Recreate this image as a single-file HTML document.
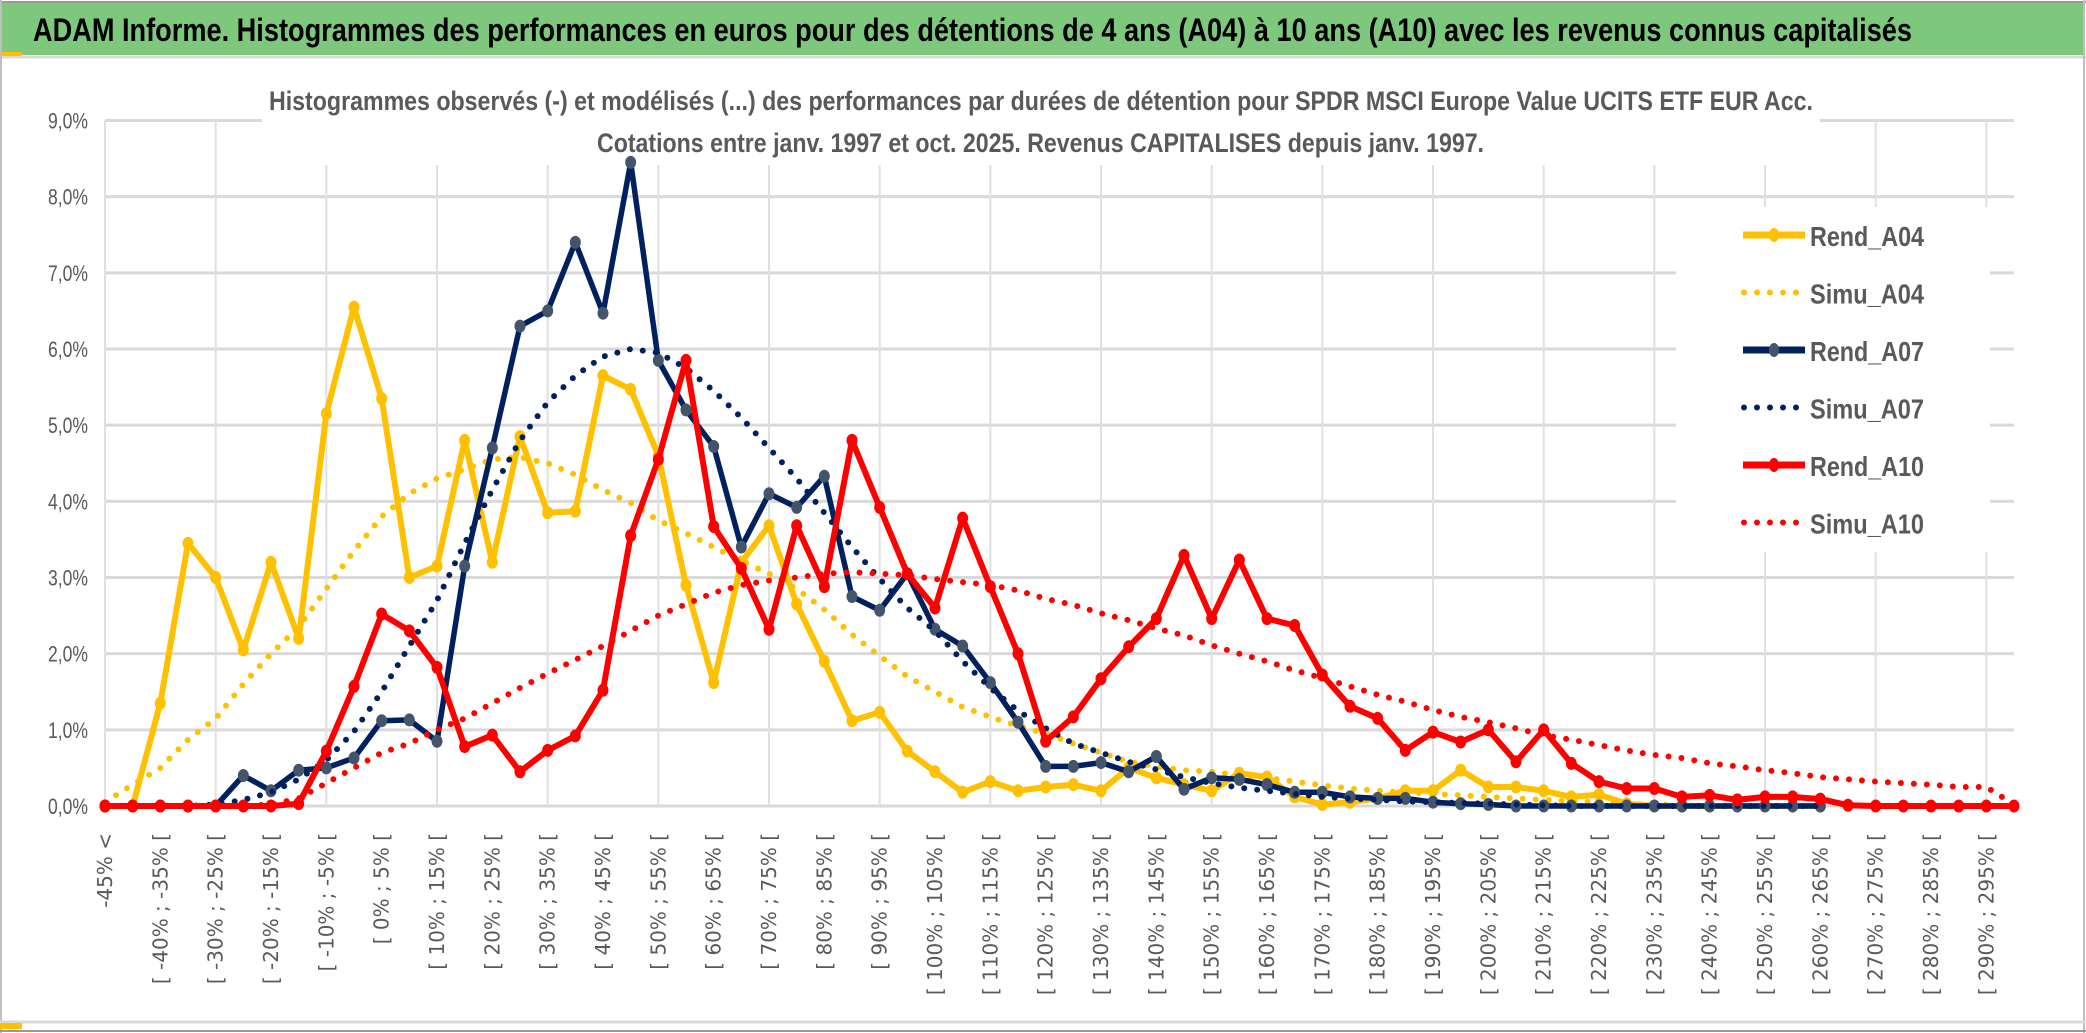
<!DOCTYPE html>
<html><head><meta charset="utf-8"><style>
html,body{margin:0;padding:0;background:#fff;}
svg{display:block;}
</style></head><body>
<svg id="chart" width="2086" height="1033" viewBox="0 0 2086 1033" xmlns="http://www.w3.org/2000/svg">
<rect x="0" y="0" width="2086" height="1033" fill="#fff"/>
<rect x="1" y="3" width="2082" height="52" fill="#7ec87e"/>
<line x1="0" y1="2" x2="2086" y2="2" stroke="#999" stroke-width="2"/>
<line x1="0" y1="57" x2="2086" y2="57" stroke="#d9d9d9" stroke-width="3"/>
<rect x="0" y="52" width="22" height="4" fill="#ffc000"/>
<line x1="1" y1="0" x2="1" y2="1033" stroke="#bfbfbf" stroke-width="2"/>
<line x1="2084" y1="0" x2="2084" y2="1033" stroke="#bfbfbf" stroke-width="2"/>
<line x1="0" y1="1022" x2="2086" y2="1022" stroke="#d9d9d9" stroke-width="3"/>
<line x1="0" y1="1031" x2="2086" y2="1031" stroke="#999" stroke-width="2"/>
<rect x="0" y="1023" width="22" height="6" fill="#ffc000"/>
<text x="33" y="41" font-family="Liberation Sans, sans-serif" font-weight="bold" font-size="32" fill="#000" textLength="1879" lengthAdjust="spacingAndGlyphs">ADAM Informe. Histogrammes des performances en euros pour des détentions de 4 ans (A04) à 10 ans (A10) avec les revenus connus capitalisés</text>
<g id="grid"></g>
<rect x="262" y="60" width="1558" height="105" fill="#fff"/>
<text x="269" y="110" font-family="Liberation Sans, sans-serif" font-weight="bold" font-size="27" fill="#595959" textLength="1544" lengthAdjust="spacingAndGlyphs">Histogrammes observés (-) et modélisés (...) des performances par durées de détention pour SPDR MSCI Europe Value UCITS ETF EUR Acc.</text>
<text x="597" y="152" font-family="Liberation Sans, sans-serif" font-weight="bold" font-size="27" fill="#595959" textLength="887" lengthAdjust="spacingAndGlyphs">Cotations entre janv. 1997 et oct. 2025. Revenus CAPITALISES depuis janv. 1997.</text>
<rect x="1676" y="207" width="314" height="345" fill="#fff"/>
<g id="yaxis"></g>
<g id="xaxis"></g>
<g id="series"></g>
<g id="legend"></g>
</svg>
<script>
const categories = ["-45% <","[ -45% ; -40% [","[ -40% ; -35% [","[ -35% ; -30% [","[ -30% ; -25% [","[ -25% ; -20% [","[ -20% ; -15% [","[ -15% ; -10% [","[ -10% ; -5% [","[ -5% ; 0% [",
"[ 0% ; 5% [","[ 5% ; 10% [","[ 10% ; 15% [","[ 15% ; 20% [","[ 20% ; 25% [","[ 25% ; 30% [","[ 30% ; 35% [","[ 35% ; 40% [","[ 40% ; 45% [","[ 45% ; 50% [",
"[ 50% ; 55% [","[ 55% ; 60% [","[ 60% ; 65% [","[ 65% ; 70% [","[ 70% ; 75% [","[ 75% ; 80% [","[ 80% ; 85% [","[ 85% ; 90% [","[ 90% ; 95% [","[ 95% ; 100% [",
"[ 100% ; 105% [","[ 105% ; 110% [","[ 110% ; 115% [","[ 115% ; 120% [","[ 120% ; 125% [","[ 125% ; 130% [","[ 130% ; 135% [","[ 135% ; 140% [","[ 140% ; 145% [","[ 145% ; 150% [",
"[ 150% ; 155% [","[ 155% ; 160% [","[ 160% ; 165% [","[ 165% ; 170% [","[ 170% ; 175% [","[ 175% ; 180% [","[ 180% ; 185% [","[ 185% ; 190% [","[ 190% ; 195% [","[ 195% ; 200% [",
"[ 200% ; 205% [","[ 205% ; 210% [","[ 210% ; 215% [","[ 215% ; 220% [","[ 220% ; 225% [","[ 225% ; 230% [","[ 230% ; 235% [","[ 235% ; 240% [","[ 240% ; 245% [","[ 245% ; 250% [",
"[ 250% ; 255% [","[ 255% ; 260% [","[ 260% ; 265% [","[ 265% ; 270% [","[ 270% ; 275% [","[ 275% ; 280% [","[ 280% ; 285% [","[ 285% ; 290% [","[ 290% ; 295% [","[ 295% ; 300% ["];
const yTicks = [0,1,2,3,4,5,6,7,8,9];
const yTickLabels = ["0,0%","1,0%","2,0%","3,0%","4,0%","5,0%","6,0%","7,0%","8,0%","9,0%"];
const rendA04 = [0,0,1.35,3.45,3.0,2.05,3.2,2.2,5.15,6.55,
5.35,3.0,3.15,4.8,3.2,4.85,3.85,3.87,5.65,5.47,
4.6,2.9,1.62,3.2,3.68,2.65,1.9,1.12,1.23,0.72,
0.45,0.18,0.32,0.2,0.25,0.28,0.2,0.5,0.37,0.28,
0.2,0.43,0.38,0.12,0.02,0.05,0.1,0.2,0.2,0.47,
0.25,0.25,0.2,0.12,0.15,0.03,0,0,0,0,
0,0,0,null,null,null,null,null,null,null];
const simuA04 = [0.05,0.28,0.5,0.87,1.15,1.6,2.0,2.35,2.85,3.35,
3.8,4.1,4.3,4.42,4.55,4.58,4.5,4.35,4.15,3.98,
3.75,3.58,3.4,3.22,3.05,2.85,2.58,2.25,1.97,1.7,
1.5,1.3,1.17,1.05,0.95,0.82,0.7,0.58,0.52,0.47,
0.45,0.4,0.37,0.32,0.27,0.23,0.2,0.18,0.16,0.14,
0.12,0.1,0.08,0.06,0.05,0.03,0.02,0.01,0,0,
0,0,0,null,null,null,null,null,null,null];
const rendA07 = [0,0,0,0,0,0.4,0.2,0.47,0.5,0.63,
1.12,1.13,0.85,3.15,4.7,6.3,6.5,7.4,6.47,8.45,
5.85,5.2,4.72,3.4,4.1,3.92,4.33,2.75,2.57,3.05,
2.32,2.1,1.62,1.1,0.52,0.52,0.57,0.45,0.65,0.22,
0.37,0.35,0.28,0.18,0.18,0.12,0.1,0.1,0.05,0.03,
0.02,0,0,0,0,0,0,0,0,0,
0,0,0,null,null,null,null,null,null,null];
const simuA07 = [0,0,0,0,0.02,0.08,0.18,0.35,0.6,0.98,
1.5,2.1,2.7,3.45,4.15,4.8,5.3,5.65,5.9,6.0,
5.95,5.75,5.45,5.1,4.7,4.3,3.85,3.4,2.98,2.6,
2.3,1.9,1.55,1.25,1.02,0.82,0.7,0.58,0.48,0.38,
0.3,0.24,0.2,0.16,0.12,0.1,0.08,0.06,0.05,0.04,
0.03,0.02,0.01,0,0,0,0,0,0,0,
0,0,0,null,null,null,null,null,null,null];
const rendA10 = [0,0,0,0,0,0,0,0.03,0.72,1.57,
2.52,2.3,1.82,0.78,0.93,0.45,0.73,0.92,1.52,3.55,
4.55,5.85,3.67,3.12,2.32,3.68,2.88,4.8,3.92,3.05,
2.6,3.78,2.88,2.0,0.85,1.17,1.67,2.09,2.46,3.29,
2.46,3.23,2.46,2.37,1.72,1.31,1.15,0.73,0.97,0.84,
1.0,0.58,1.0,0.56,0.32,0.23,0.23,0.12,0.14,0.08,
0.12,0.12,0.09,0.01,0,0,0,0,0,0];
const simuA10 = [0,0,0,0,0,0,0.02,0.1,0.3,0.5,
0.7,0.82,1.0,1.15,1.35,1.55,1.74,1.92,2.1,2.3,
2.5,2.65,2.8,2.9,2.96,3.0,3.05,3.07,3.05,3.03,
2.98,2.94,2.9,2.83,2.72,2.64,2.53,2.44,2.33,2.24,
2.11,2.0,1.9,1.78,1.68,1.57,1.46,1.37,1.26,1.17,
1.1,1.02,0.93,0.87,0.8,0.73,0.67,0.63,0.56,0.52,
0.47,0.43,0.38,0.35,0.32,0.3,0.28,0.25,0.25,0.02];
const seriesNames = ["Rend_A04","Simu_A04","Rend_A07","Simu_A07","Rend_A10","Simu_A10"];

const NS = "http://www.w3.org/2000/svg";
const X0 = 105, X1 = 2014, Y0 = 806, Y9 = 120.5;
function xs(i){ return X0 + (X1 - X0) * i / (categories.length - 1); }
function ys(v){ return Y0 - (Y0 - Y9) * v / 9; }
function mk(tag, attrs, parent){ const e = document.createElementNS(NS, tag); for (const k in attrs) e.setAttribute(k, attrs[k]); parent.appendChild(e); return e; }

const grid = document.getElementById('grid');
yTicks.forEach(function(t){
  const l = mk('line', {x1:X0, x2:X1, y1:ys(t), y2:ys(t), stroke:'#d9d9d9', 'stroke-width':3}, grid);
  
  
});
for (let i = 0; i < categories.length; i += 4) {
  const l = mk('line', {x1:xs(i), x2:xs(i), y1:ys(9), y2:Y0, stroke:'#e0e0e0', 'stroke-width':2}, grid);
  
  
}

const yaxis = document.getElementById('yaxis');
yTicks.forEach(function(t, i){
  const tx = mk('text', {x:88, y:ys(t)+8, 'text-anchor':'end', 'font-family':'Liberation Sans, sans-serif', 'font-size':22, fill:'#595959', textLength:40, lengthAdjust:'spacingAndGlyphs'}, yaxis);
  tx.textContent = yTickLabels[i];
  
  
});

const xaxis = document.getElementById('xaxis');
for (let i = 0; i < categories.length; i += 2) {
  const x = xs(i) + 7;
  const tx = mk('text', {x:x, y:833, transform:'rotate(-90 ' + x + ' 833)', 'text-anchor':'end', 'font-family':'DejaVu Sans, sans-serif', 'font-size':20, fill:'#595959'}, xaxis);
  tx.textContent = categories[i];
  
  
}

function pathFor(vals){
  let d = '', pen = false;
  vals.forEach(function(v, i){
    if (v === null) { pen = false; return; }
    d += (pen ? 'L' : 'M') + xs(i).toFixed(1) + ' ' + ys(v).toFixed(1) + ' ';
    pen = true;
  });
  return d;
}
const sg = document.getElementById('series');
function drawRend(vals, color, markerColor, width, name){
  const g = mk('g', {}, sg);
  
  
  const p = mk('path', {d:pathFor(vals), fill:'none', stroke:color, 'stroke-width':width, 'stroke-linejoin':'round'}, g);
  
  
  vals.forEach(function(v, i){
    if (v === null) return;
    const c = mk('ellipse', {cx:xs(i), cy:ys(v), rx:5.5, ry:6.5, fill:markerColor}, g);
    
    
  });
}
function drawSimu(vals, color, name){
  const p = mk('path', {d:pathFor(vals), fill:'none', stroke:color, 'stroke-width':6, 'stroke-linecap':'round', 'stroke-dasharray':'0 13'}, sg);
  
  
}
drawRend(rendA04, '#ffc000', '#ffc000', 6, 'rend-a04');
drawSimu(simuA04, '#ffc000', 'simu-a04');
drawRend(rendA07, '#002060', '#44546a', 5.5, 'rend-a07');
drawSimu(simuA07, '#002060', 'simu-a07');
drawRend(rendA10, '#ff0000', '#ff0000', 6, 'rend-a10');
drawSimu(simuA10, '#ff0000', 'simu-a10');

const lg = document.getElementById('legend');
const legColors = ['#ffc000','#ffc000','#002060','#002060','#ff0000','#ff0000'];
const legMarker = ['#ffc000','#ffc000','#44546a','#44546a','#ff0000','#ff0000'];
seriesNames.forEach(function(n, i){
  const cy = 235 + i * 57.5;
  const g = mk('g', {}, lg);
  
  
  if (i % 2 === 0) {
    mk('line', {x1:1743, x2:1805, y1:cy, y2:cy, stroke:legColors[i], 'stroke-width':7}, g);
    mk('ellipse', {cx:1774, cy:cy, rx:5, ry:7, fill:legMarker[i]}, g);
  } else {
    mk('line', {x1:1744, x2:1800, y1:cy, y2:cy, stroke:legColors[i], 'stroke-width':6, 'stroke-linecap':'round', 'stroke-dasharray':'0 13'}, g);
  }
  const t = mk('text', {x:1810, y:cy+11, 'font-family':'Liberation Sans, sans-serif', 'font-weight':'bold', 'font-size':28, fill:'#595959', textLength:114, lengthAdjust:'spacingAndGlyphs'}, g);
  t.textContent = n;
});
</script>
</body></html>
